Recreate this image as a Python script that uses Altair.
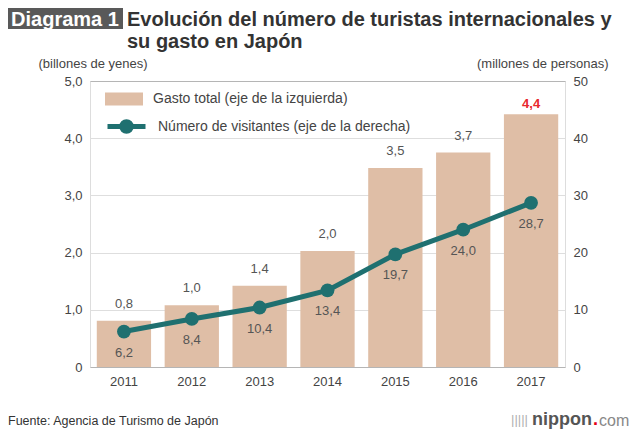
import altair as alt
import pandas as pd

anios = ["2011", "2012", "2013", "2014", "2015", "2016", "2017"]
gasto = [0.81, 1.08, 1.42, 2.03, 3.48, 3.75, 4.42]
gasto_etiquetas = ["0,8", "1,0", "1,4", "2,0", "3,5", "3,7", "4,4"]
visitantes = [6.2, 8.4, 10.4, 13.4, 19.7, 24.0, 28.7]
visitantes_etiquetas = ["6,2", "8,4", "10,4", "13,4", "19,7", "24,0", "28,7"]

serie_gasto = "Gasto total (eje de la izquierda)"
serie_visit = "Número de visitantes (eje de la derecha)"
titulo = "Evolución del número de turistas internacionales y\nsu gasto en Japón"
etiqueta_diagrama = "Diagrama 1"
fuente = "Fuente: Agencia de Turismo de Japón"

df = pd.DataFrame({
    "anio": anios,
    "gasto": gasto,
    "lab_g": gasto_etiquetas,
    "visit": visitantes,
    "lab_v": visitantes_etiquetas,
    "sg": [serie_gasto] * len(anios),
    "sv": [serie_visit] * len(anios),
})

FONT = "Liberation Sans"
BAR = "#dfbea6"
TEAL = "#1f7070"
GRAY = "#555555"
RED = "#e8282d"

base = alt.Chart(df)

x = alt.X("anio:N", title=None,
          scale=alt.Scale(paddingInner=0.2, paddingOuter=0.1),
          axis=alt.Axis(labelAngle=0, ticks=False, domain=False, labelPadding=8,
                        labelFontSize=13, labelColor="#444", labelFont=FONT))

grid_color = {"condition": {"test": "datum.value === 0 || datum.value === 5",
                            "value": "#b5b5b5"}, "value": "#dedede"}

yl = alt.Y("gasto:Q", scale=alt.Scale(domain=[0, 5]),
           axis=alt.Axis(title="(billones de yenes)", titleAngle=0, titleAlign="left",
                         titleBaseline="middle", titleX=-52, titleY=-18,
                         titleFontWeight="normal", titleFontSize=13, titleColor="#444",
                         titleFont=FONT, values=[0, 1, 2, 3, 4, 5], labelOverlap=False,
                         labelExpr="datum.value === 0 ? '0' : replace(format(datum.value, '.1f'), '.', ',')",
                         ticks=False, domain=False, labelPadding=8, labelFontSize=13,
                         labelColor="#444", labelFont=FONT, gridColor=grid_color))

yr = alt.Y("visit:Q", scale=alt.Scale(domain=[0, 50]),
           axis=alt.Axis(orient="right", title="(millones de personas)", titleAngle=0,
                         titleAlign="right", titleBaseline="middle", titleX=43, titleY=-18,
                         titleFontWeight="normal", titleFontSize=13, titleColor="#444",
                         titleFont=FONT, values=[0, 10, 20, 30, 40, 50], format="d",
                         labelOverlap=False,
                         ticks=False, domain=False, grid=False, labelPadding=8,
                         labelFontSize=13, labelColor="#444", labelFont=FONT))

bars = base.mark_bar().encode(
    x=x, y=yl,
    fill=alt.Fill("sg:N", scale=alt.Scale(range=[BAR]),
                  legend=alt.Legend(orient="none", legendX=15, legendY=-1, title=None,
                                    symbolType="M-1,-0.34H1V0.34H-1Z", symbolSize=1444,
                                    symbolStrokeWidth=0, labelFontSize=14, labelColor="#444",
                                    labelFont=FONT, padding=0, labelOffset=10,
                                    labelLimit=400)),
)

bar_txt = base.mark_text(baseline="alphabetic", dy=-13, fontSize=13, color=GRAY,
                         font=FONT).encode(x=x, y=yl, text="lab_g:N").transform_filter(
    "datum.anio !== '2017'")
bar_txt_red = base.mark_text(baseline="alphabetic", dy=-6, fontSize=13, color=RED,
                             fontWeight="bold", font=FONT).encode(
    x=x, y=yl, text="lab_g:N").transform_filter("datum.anio === '2017'")

left = alt.layer(bars, bar_txt, bar_txt_red)

line = base.mark_line(strokeWidth=5).encode(
    x=x, y=yr,
    stroke=alt.Stroke("sv:N", scale=alt.Scale(range=[TEAL]),
                      legend=alt.Legend(orient="none", legendX=15, legendY=24, title=None,
                                        symbolType="M-1,0H1M0.25,0A0.25,0.25,0,1,1,-0.25,0A0.25,0.25,0,1,1,0.25,0Z",
                                        symbolSize=1444, symbolStrokeWidth=5,
                                        symbolFillColor=TEAL, labelFontSize=14,
                                        labelColor="#444", labelFont=FONT, padding=0,
                                        labelOffset=10, labelLimit=400)),
)
pts = base.mark_circle(size=190, color=TEAL, opacity=1).encode(x=x, y=yr)
pt_txt = base.mark_text(baseline="middle", dy=21, fontSize=13, color=GRAY,
                        font=FONT).encode(x=x, y=yr, text="lab_v:N")

right = alt.layer(line, pts, pt_txt)

hdr = alt.Chart(pd.DataFrame({"t": [etiqueta_diagrama], "titulo": [titulo]}))
box = hdr.mark_rect(color="#595959").encode(
    x=alt.value(-82), x2=alt.value(33), y=alt.value(-73), y2=alt.value(-52))
box_txt = hdr.mark_text(color="white", fontSize=20, fontWeight="bold", font=FONT,
                        baseline="alphabetic", align="center").encode(
    x=alt.value(-25), y=alt.value(-55.5), text="t:N")
title_txt = hdr.mark_text(color="#333", fontSize=20, fontWeight="bold", font=FONT,
                          baseline="alphabetic", align="left", lineBreak="\n",
                          lineHeight=22).encode(
    x=alt.value(37), y=alt.value(-55.5), text="titulo:N")

foot = alt.Chart(pd.DataFrame({"t": [fuente]}))
foot_txt = foot.mark_text(fontSize=12.5, color="#333", font=FONT, align="left",
                          baseline="middle").encode(x=alt.value(-82), y=alt.value(340),
                                                    text="t:N")
logo = alt.Chart(pd.DataFrame({"i": ["|||||"], "a": ["nippon"], "b": ["."], "c": ["com"]}))
logo0 = logo.mark_text(fontSize=13, color="#b0b0b0", font=FONT, align="right",
                       baseline="middle").encode(
    x=alt.value(438), y=alt.value(339), text="i:N")
logo1 = logo.mark_text(fontSize=18, fontWeight="bold", color="#555", font=FONT,
                       align="right", baseline="middle").encode(
    x=alt.value(502), y=alt.value(339), text="a:N")
logo2 = logo.mark_text(fontSize=18, fontWeight="bold", color="#e60012", font=FONT,
                       align="left", baseline="middle").encode(
    x=alt.value(503), y=alt.value(339), text="b:N")
logo3 = logo.mark_text(fontSize=16, color="#888", font=FONT, align="left",
                       baseline="middle").encode(
    x=alt.value(509), y=alt.value(340), text="c:N")

chart = alt.layer(left, right, box, box_txt, title_txt, foot_txt, logo0, logo1, logo2,
                  logo3).resolve_scale(
    y="independent", fill="independent", stroke="independent"
).properties(
    width=475, height=286,
    autosize=alt.AutoSizeParams(type="none"),
    padding={"left": 82, "top": 73, "right": 67, "bottom": 62},
).configure_view(stroke=None).configure(background="white")

chart.save("out.html", embed_options={"renderer": "svg", "actions": False})
